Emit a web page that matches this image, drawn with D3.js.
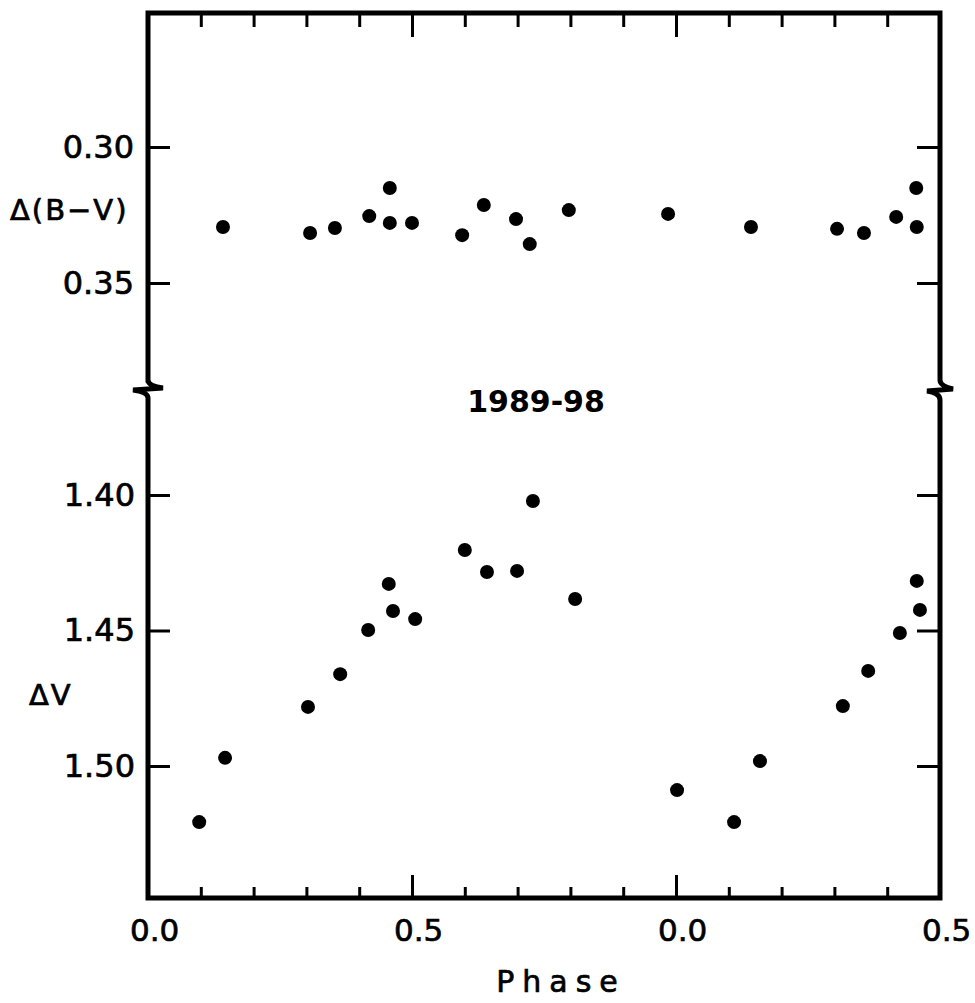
<!DOCTYPE html>
<html>
<head>
<meta charset="utf-8">
<script src="https://cdn.jsdelivr.net/npm/d3@7"></script>
<style>
  html, body { margin: 0; padding: 0; background: #fff; }
  svg { display: block; }
  text { font-family: "DejaVu Sans", sans-serif; fill: #000; stroke: #000; stroke-width: 0.7px; }
</style>
</head>
<body>
<svg id="chart" width="975" height="1003"></svg>
<script>
// Colour index light curve, Δ(B−V) against phase
const phaseBV = [0.142, 0.307, 0.354, 0.419, 0.458, 0.458, 0.500, 0.595, 0.636, 0.697,
                 0.723, 0.797, 0.985, 1.142, 1.305, 1.356, 1.417, 1.455, 1.456];
const deltaBV = [0.3294, 0.3316, 0.3298, 0.3254, 0.3151, 0.3279, 0.3279, 0.3324, 0.3213, 0.3265,
                 0.3357, 0.3232, 0.3246, 0.3294, 0.3301, 0.3316, 0.3257, 0.3151, 0.3294];

// V-band light curve, ΔV against phase
const phaseV = [0.097, 0.146, 0.303, 0.364, 0.417, 0.456, 0.464, 0.506, 0.600, 0.642, 0.699,
                0.729, 0.809, 1.002, 1.110, 1.159, 1.316, 1.364, 1.424, 1.456, 1.462];
const deltaV = [1.5207, 1.4970, 1.4782, 1.4661, 1.4498, 1.4328, 1.4428, 1.4458, 1.4203, 1.4284, 1.4280,
                1.4022, 1.4384, 1.5089, 1.5207, 1.4982, 1.4779, 1.4649, 1.4509, 1.4317, 1.4424];

// Axis ticks and labels
const phaseMajorTicks = [0, 0.5, 1.0, 1.5];
const phaseTickLabels = ["0.0", "0.5", "0.0", "0.5"];
const phaseMinorTicks = [0.1, 0.2, 0.3, 0.4, 0.6, 0.7, 0.8, 0.9, 1.1, 1.2, 1.3, 1.4];
const bvTicks = [0.30, 0.35];
const vTicks = [1.40, 1.45, 1.50];
const epochLabel = "1989-98";

const svg = d3.select("#chart");

const plotLeft = 148, plotRight = 940, plotTop = 13, plotBottom = 898;
const x = d3.scaleLinear().domain([0, 1.5]).range([plotLeft, plotRight]);
const yBV = d3.scaleLinear().domain([0.30, 0.35]).range([147, 283]);
const yV = d3.scaleLinear().domain([1.40, 1.50]).range([495, 766]);

function styleAxis(g) {
  g.select(".domain").remove();
  g.selectAll(".tick line").attr("stroke", "#000").attr("stroke-width", 3);
}
function styleLabels(size) {
  return g => g.selectAll("text").attr("font-size", size)
    .style("font-family", "DejaVu Sans, sans-serif").attr("fill", "#000");
}

// Phase ticks along the bottom (pointing inward)
svg.append("g").attr("transform", `translate(0,${plotBottom})`)
  .call(d3.axisBottom(x).tickValues(phaseMinorTicks).tickSize(-11).tickFormat(""))
  .call(styleAxis);
svg.append("g").attr("transform", `translate(0,${plotBottom})`)
  .call(d3.axisBottom(x).tickValues(phaseMajorTicks).tickSize(-23).tickPadding(21)
    .tickFormat((d, i) => phaseTickLabels[i]))
  .call(styleAxis)
  .call(styleLabels(31))
  .call(g => g.selectAll("text").attr("dx", "0.2em"));

// Phase ticks along the top
svg.append("g").attr("transform", `translate(0,${plotTop})`)
  .call(d3.axisTop(x).tickValues(phaseMinorTicks).tickSize(-14).tickFormat(""))
  .call(styleAxis);
svg.append("g").attr("transform", `translate(0,${plotTop})`)
  .call(d3.axisTop(x).tickValues(phaseMajorTicks.slice(1, 3)).tickSize(-24).tickFormat(""))
  .call(styleAxis);

// Left axes with labels
svg.append("g").attr("transform", `translate(${plotLeft},0)`)
  .call(d3.axisLeft(yBV).tickValues(bvTicks).tickSize(-22).tickPadding(14).tickFormat(d3.format(".2f")))
  .call(styleAxis)
  .call(styleLabels(32));
svg.append("g").attr("transform", `translate(${plotLeft},0)`)
  .call(d3.axisLeft(yV).tickValues(vTicks).tickSize(-22).tickPadding(13).tickFormat(d3.format(".2f")))
  .call(styleAxis)
  .call(styleLabels(32));

// Right axes, ticks only
svg.append("g").attr("transform", `translate(${plotRight},0)`)
  .call(d3.axisRight(yBV).tickValues(bvTicks).tickSize(-23).tickFormat(""))
  .call(styleAxis);
svg.append("g").attr("transform", `translate(${plotRight},0)`)
  .call(d3.axisRight(yV).tickValues(vTicks).tickSize(-23).tickFormat(""))
  .call(styleAxis);

// Frame with broken vertical axes between the two panels
const frame = svg.append("g").attr("fill", "none").attr("stroke", "#000")
  .attr("stroke-width", 5).attr("stroke-linejoin", "miter").attr("stroke-linecap", "square");
const L = plotLeft, R = plotRight;
frame.append("path").attr("d",
  `M${L},380 V${plotTop} H${R} V380 ` +
  `Q${R},386 ${R + 13},389 L${R - 13},391 Q${R},393 ${R},400 ` +
  `V${plotBottom} H${L} V398 Q${L},392 ${L - 15},390 L${L + 15},388 Q${L},386 ${L},380`);

// Data points
svg.append("g").selectAll("circle").data(phaseBV).join("circle")
  .attr("cx", d => x(d)).attr("cy", (d, i) => yBV(deltaBV[i])).attr("r", 7).attr("fill", "#000");
svg.append("g").selectAll("circle").data(phaseV).join("circle")
  .attr("cx", d => x(d)).attr("cy", (d, i) => yV(deltaV[i])).attr("r", 7).attr("fill", "#000");

// Axis titles and epoch label
svg.append("text").attr("x", 10).attr("y", 210).attr("dy", "0.36em")
  .attr("font-size", 29).attr("letter-spacing", 2).text("Δ(B−V)");
svg.append("text").attr("x", 29).attr("y", 695).attr("dy", "0.36em")
  .attr("font-size", 29).attr("letter-spacing", 2).text("ΔV");
svg.append("text").attr("x", 536).attr("y", 401).attr("dy", "0.36em").attr("text-anchor", "middle")
  .attr("font-size", 30).attr("font-weight", "bold").style("stroke-width", "0px").text(epochLabel);
svg.append("text").attr("x", 561).attr("y", 981).attr("dy", "0.36em").attr("text-anchor", "middle")
  .attr("font-size", 30).attr("letter-spacing", 8).text("Phase");
</script>
</body>
</html>
